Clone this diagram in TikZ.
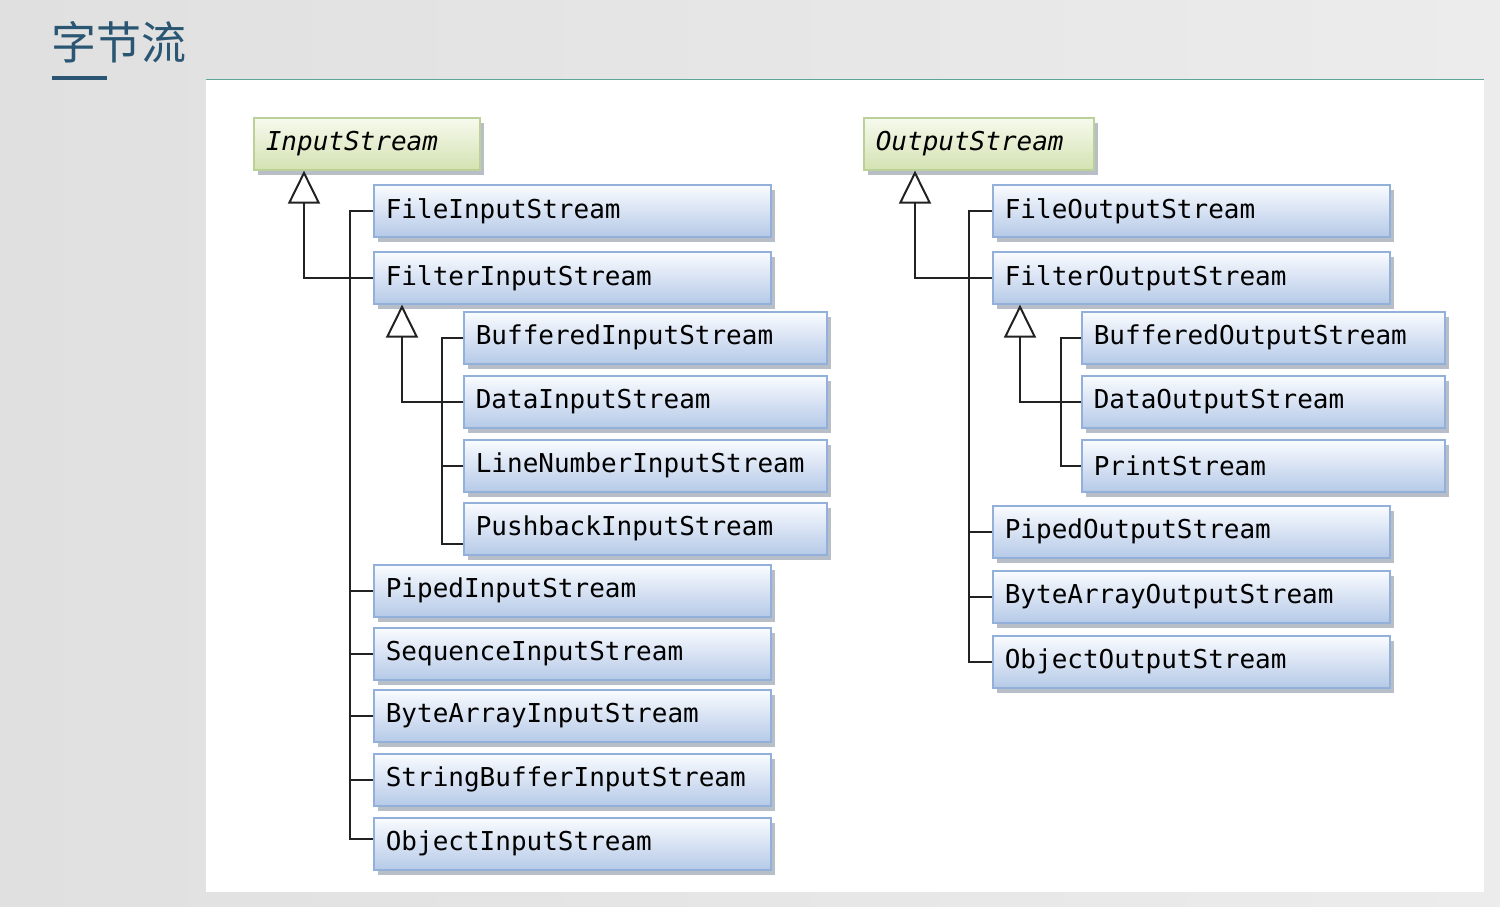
\documentclass[tikz,border=0pt]{standalone}
\usepackage{fontspec}
\setmonofont{DejaVu Sans Mono}
\newfontfamily\cjk{Noto Sans CJK SC}
\usetikzlibrary{shadows,arrows.meta,calc}
\definecolor{bgl}{HTML}{E0E0E0}
\definecolor{bgr}{HTML}{ECECEC}
\definecolor{topline}{HTML}{5FA596}
\definecolor{titlec}{HTML}{2A5673}
\definecolor{boxtop}{HTML}{FAFCFF}
\definecolor{boxbot}{HTML}{B5C9E7}
\definecolor{boxedge}{HTML}{93B0DA}
\definecolor{abstop}{HTML}{F7FAEE}
\definecolor{absbot}{HTML}{D3E2B2}
\definecolor{absedge}{HTML}{BCD197}
\definecolor{shadowc}{HTML}{9AA3B2}
\definecolor{linec}{HTML}{222222}
\tikzset{
  cls/.style={rectangle, draw=boxedge, line width=0.8pt, top color=boxtop, bottom color=boxbot,
    minimum height=26pt, inner xsep=6pt, inner ysep=0pt, anchor=north west, align=left,
    font=\ttfamily\fontsize{13}{15}\selectfont,
    drop shadow={shadow xshift=2pt, shadow yshift=-2.5pt, fill=shadowc, opacity=0.7}},
  wide/.style={cls, minimum width=198.5pt, text width=186.5pt},
  narrow/.style={cls, minimum width=181.5pt, text width=169.5pt},
  abs/.style={cls, draw=absedge, top color=abstop, bottom color=absbot,
    font=\ttfamily\itshape\fontsize{13}{15}\selectfont},
  conn/.style={draw=linec, line width=1pt},
  inh/.style={conn, -{Triangle[open, length=16.5pt, width=16pt]}},
  title/.style={font=\cjk\fontsize{22.5}{24}\selectfont, text=titlec, inner sep=0pt}
}
\begin{document}
\begin{tikzpicture}[x=0.5pt,y=-0.5pt]
\useasboundingbox (0,0) rectangle (1500,906);
\shade[left color=bgl, right color=bgr] (0,0) rectangle (1500,906);
\fill[white] (206,80) rectangle (1484,892);
\draw[topline, line width=0.6pt] (206,79.5) -- (1484,79.5);
\node[title] (title) at (119,42) {字节流};
\fill[titlec] (52,76) rectangle (107,80);

% input side
\node[abs, minimum width=113pt, text width=101pt] (IS) at (253,117) {InputStream};
\node[wide] (FIS) at (373,184) {FileInputStream};
\node[wide] (FiIS) at (373,251) {FilterInputStream};
\node[narrow] (BIS) at (463,311) {BufferedInputStream};
\node[narrow] (DIS) at (463,375) {DataInputStream};
\node[narrow] (LIS) at (463,439) {LineNumberInputStream};
\node[narrow] (PbIS) at (463,502) {PushbackInputStream};
\node[wide] (PIS) at (373,564) {PipedInputStream};
\node[wide] (SIS) at (373,627) {SequenceInputStream};
\node[wide] (BAIS) at (373,689) {ByteArrayInputStream};
\node[wide] (SBIS) at (373,753) {StringBufferInputStream};
\node[wide] (OIS) at (373,817) {ObjectInputStream};

% output side
\node[abs, minimum width=115pt, text width=103pt] (OS) at (863,117) {OutputStream};
\node[wide] (FOS) at (992,184) {FileOutputStream};
\node[wide] (FiOS) at (992,251) {FilterOutputStream};
\node[narrow] (BOS) at (1081,311) {BufferedOutputStream};
\node[narrow] (DOS) at (1081,375) {DataOutputStream};
\node[narrow] (PS) at (1081,439) {PrintStream};
\node[wide] (POS) at (992,505) {PipedOutputStream};
\node[wide] (BAOS) at (992,570) {ByteArrayOutputStream};
\node[wide] (OOS) at (992,635) {ObjectOutputStream};

% input connectors
\draw[inh] (FiIS.west) -| ([xshift=25.5pt]IS.south west);
\draw[conn] (FIS.west) -- ++(-11.5pt,0) |- ([yshift=2.5pt]OIS.west);
\foreach \n in {FiIS,PIS,SIS,BAIS,SBIS} \draw[conn] (\n.west) -- ++(-11.5pt,0);
\draw[inh] (DIS.west) -| ([xshift=14.5pt]FiIS.south west);
\draw[conn] (BIS.west) -- ++(-10.5pt,0) |- ([yshift=-7.5pt]PbIS.west);
\foreach \n in {DIS,LIS} \draw[conn] (\n.west) -- ++(-10.5pt,0);

% output connectors
\draw[inh] (FiOS.west) -| ([xshift=26pt]OS.south west);
\draw[conn] (FOS.west) -- ++(-11.5pt,0) |- (OOS.west);
\foreach \n in {FiOS,POS,BAOS} \draw[conn] (\n.west) -- ++(-11.5pt,0);
\draw[inh] (DOS.west) -| ([xshift=14pt]FiOS.south west);
\draw[conn] (BOS.west) -- ++(-10pt,0) |- (PS.west);
\draw[conn] (DOS.west) -- ++(-10pt,0);
\end{tikzpicture}
\end{document}
